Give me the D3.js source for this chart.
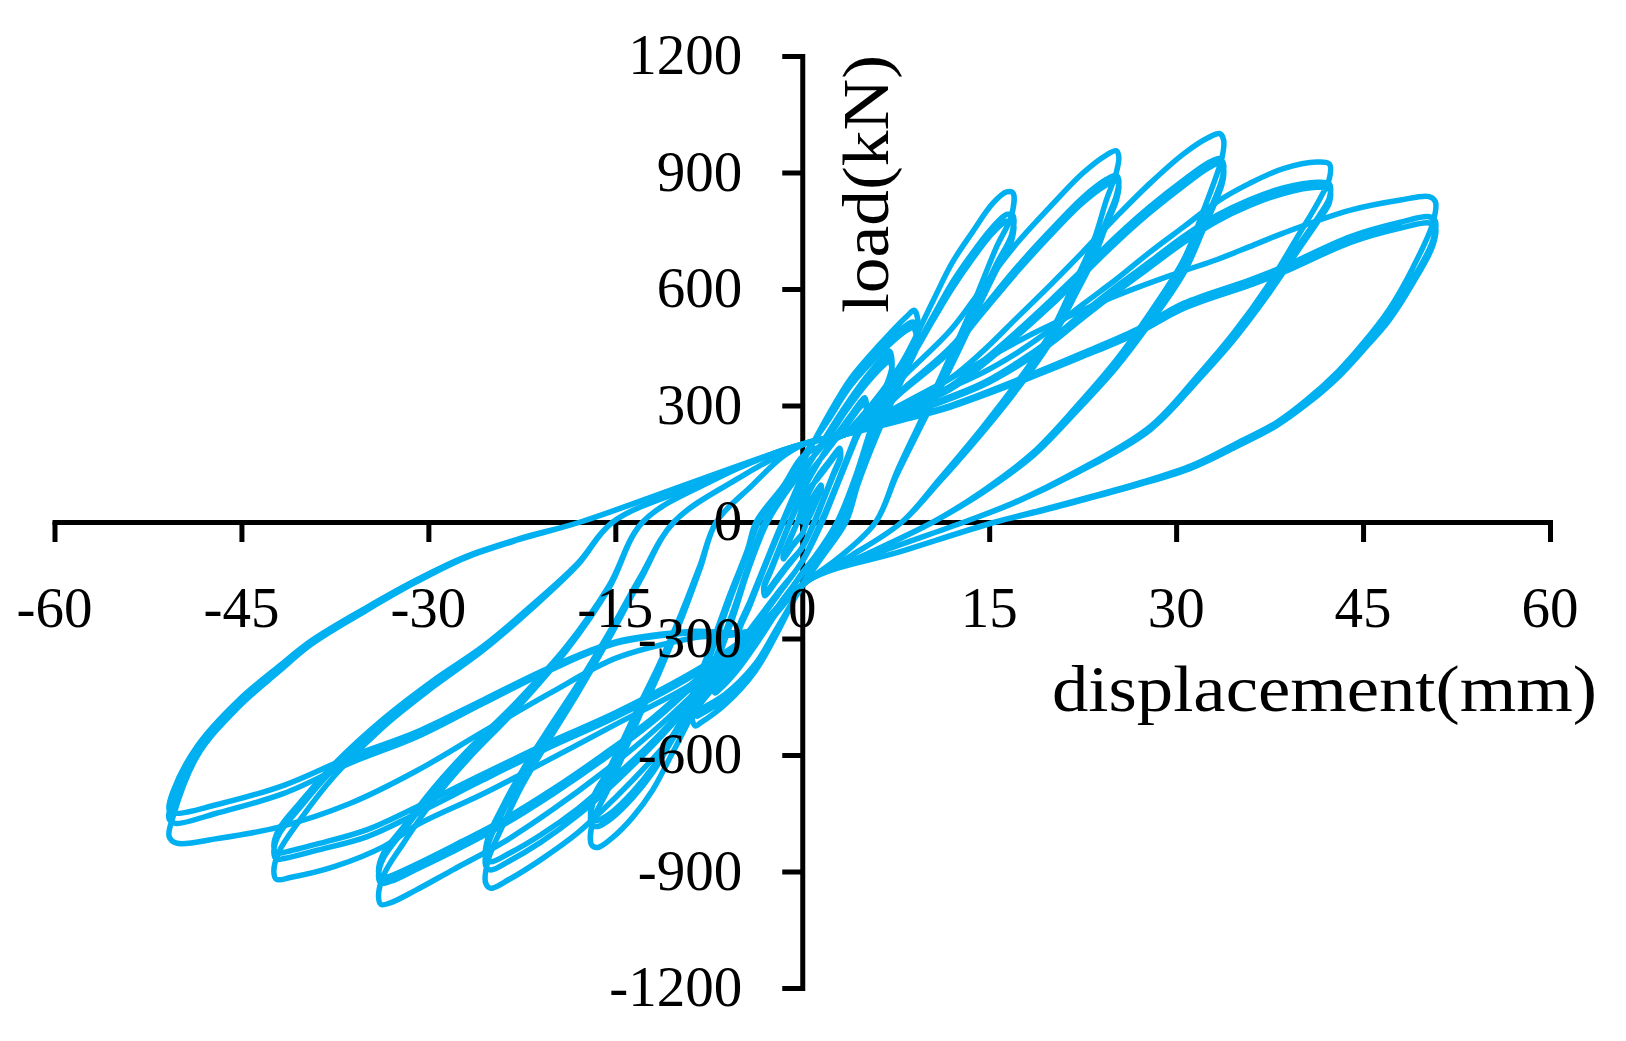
<!DOCTYPE html>
<html><head><meta charset="utf-8">
<script src="https://cdn.jsdelivr.net/npm/d3@7"></script>
<style>html,body{margin:0;padding:0;background:#fff;} svg{display:block;}</style>
</head><body>
<svg id="chart" width="1626" height="1041"></svg>
<script>
// ---- axis ticks ----
const xTicks = [-60, -45, -30, -15, 0, 15, 30, 45, 60];
const yTicks = [-1200, -900, -600, -300, 0, 300, 600, 900, 1200];

// ---- load history: [displacement (mm), load (kN)] ----
const stageS1 = [[0,0],[0.6,50],[1.1,77],[1.43,92],[1.5,95],[1.53,87],[1.2,62],[0.75,28],[0.38,0],[0,-30],[-0.6,-53],[-1.1,-77],[-1.43,-92],[-1.5,-95],[-1.53,-87],[-1.2,-62],[-0.75,-28],[-0.38,0],[0,30],
  [0.6,55],[1.1,74],[1.43,88],[1.5,91],[1.53,83],[1.2,58],[0.75,25],[0.38,0],[0,-30],[-0.6,-55],[-1.1,-74],[-1.43,-88],[-1.5,-91],[-1.53,-83],[-1.2,-58],[-0.75,-25],[-0.38,0],[0,40]];
const stageS2 = [[0,40],[1.2,115],[2.25,160],[2.85,186],[3,190],[3.08,172],[2.5,125],[1.7,60],[0.95,0],[0,-65],[-1.2,-115],[-2.25,-160],[-2.85,-186],[-3,-190],[-3.08,-172],[-2.5,-125],[-1.7,-60],[-0.95,0],[0,65],
  [1.2,110],[2.25,154],[2.85,180],[3,184],[3.08,166],[2.5,120],[1.7,56],[1,0],[0,-66],[-1.2,-110],[-2.25,-154],[-2.85,-180],[-3,-184],[-3.08,-166],[-2.5,-120],[-1.7,-56],[-1,0],[0,80]];
const stageS3 = [[0,80],[2,190],[3.75,268],[4.75,312],[5,320],[5.15,290],[4.2,215],[2.8,100],[1.5,0],[0,-100],[-2,-190],[-3.75,-268],[-4.75,-312],[-5,-320],[-5.15,-290],[-4.2,-215],[-2.8,-100],[-1.5,0],[0,100],
  [2,184],[3.75,258],[4.75,300],[5,306],[5.15,278],[4.2,205],[2.8,94],[1.6,0],[0,-102],[-2,-184],[-3.75,-258],[-4.75,-300],[-5,-306],[-5.15,-278],[-4.2,-205],[-2.8,-94],[-1.6,0],[0,120]];
const stageS4 = [[0,120],[1.8,215],[3.5,300],[5.3,380],[6.6,428],[7,440],[7.2,400],[6.5,330],[5.5,240],[4.3,120],[2.8,0],[1,-90],[0,-130],[-1.8,-220],[-3.5,-305],[-5.3,-385],[-6.6,-430],[-7,-440],[-7.2,-400],[-6.5,-330],[-5.5,-240],[-4.3,-120],[-2.8,0],[-1,90],[0,130],
  [1.8,208],[3.5,292],[5.3,370],[6.6,416],[7,426],[7.2,388],[6.5,320],[5.5,232],[4.3,115],[2.9,0],[1,-92],[0,-132],[-1.8,-214],[-3.5,-296],[-5.3,-374],[-6.6,-418],[-7,-426],[-7.2,-388],[-6.5,-320],[-5.5,-232],[-4.3,-115],[-2.9,0],[-1,92],[0,135],
  [1.8,204],[3.5,286],[5.3,362],[6.6,406],[7,415],[7.2,378],[6.5,312],[5.5,225],[4.3,110],[3,0],[1,-94],[0,-135],[-1.8,-210],[-3.5,-290],[-5.3,-366],[-6.6,-408],[-7,-415],[-7.2,-378],[-6.5,-312],[-5.5,-225],[-4.3,-110],[-3,0],[-1,94],[0,150]];
const stageS5 = [[0,150],[2,270],[3.9,370],[6.3,460],[8.4,530],[9,545],[9.3,488],[8.4,420],[7.2,330],[6,240],[4.5,110],[3.3,0],[1.5,-90],[0,-160],[-2,-285],[-3.8,-385],[-6.2,-470],[-8.2,-518],[-8.6,-525],[-8.9,-470],[-8,-400],[-7,-310],[-5.8,-200],[-4.4,-80],[-3.5,0],[-1.5,90],[0,160],
  [2,264],[3.9,360],[6.3,446],[8.4,508],[8.9,515],[9.2,468],[8.4,405],[7.2,318],[6,230],[4.5,104],[3.4,0],[1.5,-92],[0,-162],[-2,-278],[-3.8,-375],[-6.2,-455],[-8.2,-496],[-8.5,-500],[-8.8,-452],[-8,-386],[-7,-300],[-5.8,-192],[-4.4,-76],[-3.6,0],[-1.5,92],[0,165],
  [2,258],[3.9,352],[6.3,436],[8.4,494],[8.9,500],[9.2,455],[8.4,394],[7.2,310],[6,224],[4.5,100],[3.5,0],[1.5,-94],[0,-165],[-2,-272],[-3.8,-367],[-6.2,-444],[-8.2,-482],[-8.5,-486],[-8.8,-440],[-8,-376],[-7,-292],[-5.8,-186],[-4.4,-72],[-3.7,0],[-1.5,94],[0,168],[1.5,195],[3.4,225]];

const stageA = [[3.4,225],[5.5,300],[8,410],[10.5,570],[12,666],[13.6,744],[15.3,821],[16.4,850],[16.9,848],
  [16.8,790],[15.6,709],[14.5,623],[13.2,520],[11.5,400],[9.5,260],[7.6,130],[5.9,0],[3,-90],[0.5,-150],[-3.6,-275],
  [-5.5,-340],[-8,-450],[-10.5,-600],[-12,-690],[-13.6,-760],[-15.3,-815],[-16.4,-838],[-16.9,-832],
  [-16.8,-770],[-15.6,-690],[-14.5,-610],[-13.2,-510],[-11.5,-390],[-9.7,-250],[-8.2,-120],[-6.9,0],[-4,95],[-1.5,170],[0.5,205],[3.4,225],
  [5.5,290],[8,390],[10.5,530],[12,615],[13.6,690],[15.3,760],[16.4,792],[16.9,790],
  [16.8,740],[15.6,665],[14.5,590],[13.2,495],[11.5,380],[9.5,250],[7.6,125],[5.9,0],[3,-90],[0.5,-150],[-3.6,-275],
  [-5.5,-330],[-8,-430],[-10.5,-565],[-12,-645],[-13.6,-710],[-15.3,-763],[-16.4,-784],[-16.9,-780],
  [-16.8,-725],[-15.6,-655],[-14.5,-580],[-13.2,-490],[-11.5,-375],[-9.7,-240],[-8.2,-115],[-6.9,0],[-4,95],[-1.5,170],[0.5,205],[3.4,225],
  [5.5,285],[8,385],[10.5,520],[12,600],[13.6,675],[15.3,745],[16.4,775],[16.9,772],
  [16.8,725],[15.6,650],[14.5,578],[13.2,485],[11.5,372],[9.5,245],[7.6,122],[5.9,0],[3,-90],[0.5,-150],[-3.6,-275],
  [-5.5,-325],[-8,-422],[-10.5,-555],[-12,-632],[-13.6,-695],[-15.3,-748],[-16.4,-768],[-16.9,-765],
  [-16.8,-712],[-15.6,-642],[-14.5,-570],[-13.2,-480],[-11.5,-368],[-9.7,-235],[-8.2,-112],[-6.9,0],[-4,95],[-1.5,170],[0.5,205],[3.4,225]];

const stageB = [[3.4,225],[5.5,280],[8,370],[11.9,494],[14.5,605],[17.2,717],[19.9,812],[22.5,898],[24.4,945],[25.2,956],[25.4,940],
  [25.2,900],[24.4,829],[23.4,726],[21.7,606],[19.9,486],[17.2,358],[14.5,245],[11,110],[8,0],[4,-85],[0.5,-150],[-3.6,-275],
  [-6,-380],[-9,-500],[-12,-610],[-15,-710],[-18,-800],[-21,-870],[-23.5,-920],[-25,-943],[-25.4,-930],
  [-25.2,-870],[-24,-780],[-22.5,-680],[-20.5,-570],[-18,-440],[-15.5,-300],[-13,-150],[-10.3,0],[-5,115],[-1,185],[0.5,205],[3.4,225],
  [5.5,265],[8,340],[11.9,450],[14.5,550],[17.2,655],[19.9,750],[22.5,835],[24.4,882],[25.2,893],[25.4,880],
  [25.2,840],[24.4,775],[23.4,690],[21.7,580],[19.9,470],[17.2,345],[14.5,235],[11,105],[8,0],[4,-85],[0.5,-150],[-3.6,-275],
  [-6,-360],[-9,-470],[-12,-575],[-15,-670],[-18,-755],[-21,-825],[-23.5,-873],[-25,-896],[-25.4,-885],
  [-25.2,-830],[-24,-745],[-22.5,-655],[-20.5,-550],[-18,-425],[-15.5,-290],[-13,-145],[-10.3,0],[-5,115],[-1,185],[0.5,205],[3.4,225],
  [5.5,262],[8,335],[11.9,440],[14.5,540],[17.2,643],[19.9,738],[22.5,822],[24.4,868],[25.2,880],[25.4,868],
  [25.2,828],[24.4,765],[23.4,680],[21.7,572],[19.9,463],[17.2,340],[14.5,232],[11,103],[8,0],[4,-85],[0.5,-150],[-3.6,-275],
  [-6,-355],[-9,-462],[-12,-565],[-15,-655],[-18,-738],[-21,-806],[-23.5,-853],[-25,-875],[-25.4,-865],
  [-25.2,-812],[-24,-730],[-22.5,-642],[-20.5,-540],[-18,-418],[-15.5,-285],[-13,-142],[-10.3,0],[-5,115],[-1,185],[0.5,205],[3.4,225]];

const stageC = [[3.4,225],[5.5,255],[8,300],[11.9,370],[14.5,440],[17.2,525],[19.9,610],[22.5,695],[25.2,786],[27.9,872],[30.6,948],[32.6,990],[33.5,1000],[33.8,985],
  [33.7,941],[32.2,803],[30.6,675],[27.9,538],[25.2,417],[22,297],[18.5,178],[14.5,80],[10.5,0],[5,-85],[0.5,-150],[-3.6,-275],
  [-8,-420],[-12,-540],[-16,-645],[-20,-740],[-24,-825],[-28,-895],[-31,-948],[-33,-980],[-33.8,-985],[-34,-965],
  [-33.6,-910],[-32,-827],[-29.6,-716],[-26.9,-613],[-22.9,-480],[-18.9,-330],[-15.5,-170],[-12.8,0],[-7,110],[-2,180],[0.5,205],[3.4,225],
  [5.5,250],[8,290],[11.9,350],[14.5,415],[17.2,490],[19.9,570],[22.5,650],[25.2,735],[27.9,812],[30.6,880],[32.6,925],[33.5,936],[33.8,922],
  [33.7,885],[32.2,765],[30.6,648],[27.9,520],[25.2,405],[22,290],[18.5,174],[14.5,78],[10.5,0],[5,-85],[0.5,-150],[-3.6,-275],
  [-8,-400],[-12,-515],[-16,-612],[-20,-700],[-24,-780],[-28,-848],[-31,-895],[-33,-925],[-33.8,-930],[-34,-912],
  [-33.6,-865],[-32,-795],[-29.6,-695],[-26.9,-598],[-22.9,-470],[-18.9,-325],[-15.5,-167],[-12.8,0],[-7,110],[-2,180],[0.5,205],[3.4,225],
  [5.5,248],[8,285],[11.9,342],[14.5,405],[17.2,478],[19.9,556],[22.5,636],[25.2,720],[27.9,797],[30.6,866],[32.6,912],[33.5,924],[33.8,910],
  [33.7,872],[32.2,755],[30.6,640],[27.9,512],[25.2,398],[22,285],[18.5,170],[14.5,76],[10.5,0],[5,-85],[0.5,-150],[-3.6,-275],
  [-8,-392],[-12,-505],[-16,-600],[-20,-688],[-24,-767],[-28,-834],[-31,-882],[-33,-911],[-33.8,-917],[-34,-900],
  [-33.6,-853],[-32,-785],[-29.6,-686],[-26.9,-590],[-22.9,-463],[-18.9,-320],[-15.5,-164],[-12.8,0],[-7,110],[-2,180],[0.5,205],[3.4,225]];

const stageD = [[3.4,225],[6,265],[10,320],[14.5,385],[17.2,435],[19.9,495],[22.5,560],[25.2,625],[27.9,695],[30.6,760],[33.3,825],[35.9,872],[38.6,910],[41.3,927],[42.3,922],
  [42.3,885],[41.5,830],[39.9,743],[37.3,606],[34.6,486],[31.9,383],[27.9,245],[22,130],[17,50],[13,0],[6,-80],[0.5,-150],[-3.6,-275],
  [-8,-400],[-14.9,-520],[-20.2,-610],[-25.6,-700],[-30.9,-780],[-33.6,-836],[-37.5,-887],[-41,-915],[-42.2,-920],[-42.4,-900],
  [-42,-850],[-40.3,-767],[-37.6,-656],[-33.6,-527],[-29.6,-424],[-25.6,-330],[-21.6,-220],[-18,-110],[-15.2,0],[-8,100],[-2,180],[0.5,205],[3.4,225],
  [6,255],[10,300],[14.5,358],[17.2,409],[19.9,469],[22.5,538],[25.2,606],[27.9,670],[30.6,735],[33.3,790],[35.9,830],[38.6,860],[41.3,875],[42.3,870],
  [42.3,835],[41.5,790],[39.9,715],[37.3,590],[34.6,475],[31.9,375],[27.9,240],[22,128],[17,50],[13,0],[6,-80],[0.5,-150],[-3.6,-275],
  [-8,-380],[-14.9,-501],[-20.2,-579],[-25.6,-664],[-30.9,-750],[-34.9,-810],[-38.9,-845],[-41.5,-866],[-42.2,-868],[-42.4,-850],
  [-42,-805],[-40.3,-735],[-37.6,-635],[-33.6,-515],[-29.6,-415],[-25.6,-325],[-21.6,-215],[-18,-108],[-15.2,0],[-8,100],[-2,180],[0.5,205],[3.4,225],
  [6,252],[10,295],[14.5,352],[17.2,400],[19.9,458],[22.5,525],[25.2,592],[27.9,656],[30.6,720],[33.3,775],[35.9,815],[38.6,846],[41.3,862],[42.3,857],
  [42.3,823],[41.5,780],[39.9,705],[37.3,582],[34.6,468],[31.9,370],[27.9,237],[22,126],[17,49],[13,0],[6,-80],[0.5,-150],[-3.6,-275],
  [-8,-372],[-14.9,-490],[-20.2,-566],[-25.6,-649],[-30.9,-733],[-34.9,-792],[-38.9,-829],[-41.5,-850],[-42.2,-853],[-42.4,-835],
  [-42,-792],[-40.3,-723],[-37.6,-625],[-33.6,-507],[-29.6,-408],[-25.6,-320],[-21.6,-212],[-18,-106],[-15.2,0],[-8,100],[-2,180],[0.5,205],[3.4,225]];

const stageE = [[3.4,225],[6.4,276],[12.5,380],[18.8,490],[25,580],[30,640],[33.3,676],[35.9,709],[38.6,744],[44,803],[48,829],[50.3,838],[50.8,825],
  [50.6,770],[49,655],[47.1,548],[45,460],[43,388],[40.5,315],[38,255],[35,205],[31.3,146],[27,100],[23,64],[19,29],[15.5,0],[8,-75],[0.5,-150],[-3.6,-275],
  [-9,-300],[-14.9,-350],[-20.2,-440],[-25.6,-540],[-30.9,-640],[-36.3,-725],[-41.9,-785],[-46.9,-815],[-50.2,-827],[-50.8,-810],
  [-50.5,-760],[-48.5,-600],[-45.2,-475],[-42,-385],[-39.4,-315],[-35,-228],[-31,-155],[-27,-92],[-22.7,-45],[-17.8,0],[-9,100],[-2,180],[0.5,205],[3.4,225],
  [8,265],[11.9,300],[18,375],[22.5,435],[26.8,495],[30.6,563],[35.9,623],[38.6,657],[44,735],[48,772],[50.3,786],[50.8,775],
  [50.6,725],[49,625],[47.1,528],[45,448],[43,378],[40.5,308],[38,250],[35,200],[31.3,142],[27,97],[23,62],[19,28],[15.5,0],[8,-75],[0.5,-150],[-3.6,-275],
  [-9,-285],[-14.9,-312],[-20.2,-381],[-25.6,-467],[-30.9,-553],[-36.3,-621],[-41.6,-699],[-47,-750],[-50.3,-776],[-50.8,-765],
  [-50.5,-715],[-48.5,-585],[-45.2,-465],[-42,-378],[-39.4,-310],[-35,-224],[-31,-152],[-27,-90],[-22.7,-44],[-17.8,0],[-9,100],[-2,180],[0.5,205],[3.4,225],
  [8,262],[11.9,296],[18,368],[22.5,426],[26.8,485],[30.6,550],[35.9,610],[38.6,643],[44,720],[48,757],[50.3,770],[50.8,760],
  [50.6,712],[49,615],[47.1,520],[45,442],[43,373],[40.5,304],[38,247],[35,197],[31.3,140],[27,96],[23,61],[19,27],[15.5,0],[8,-75],[0.5,-150],[-3.6,-275],
  [-9,-282],[-14.9,-308],[-20.2,-374],[-25.6,-458],[-30.9,-540],[-36.3,-605],[-41.6,-678],[-47,-728],[-50.3,-750],[-50.8,-740],
  [-50.5,-695],[-48.5,-575],[-45.2,-458],[-42,-372],[-39.4,-306],[-35,-221],[-31,-150],[-27,-89],[-22.7,-43],[-17.8,0],[-9,100],[-2,180],[0.5,205],[3.4,225]];

const stages = [stageS1, stageS2, stageS3, stageS4, stageS5, stageA, stageB, stageC, stageD, stageE];

// ---- drawing ----
const svg = d3.select('#chart');
const font = '"Liberation Serif", "Times New Roman", serif';
const x = d3.scaleLinear().domain([-60, 60]).range([54.5, 1550]);
const y = d3.scaleLinear().domain([-1200, 1200]).range([988, 56]);

const axes = svg.append('g');
axes.append('g').attr('transform', `translate(0,${y(0)})`)
  .call(d3.axisBottom(x).tickValues(xTicks).tickSize(20).tickSizeOuter(0).tickFormat(''));
axes.append('g').attr('transform', `translate(${x(0)},0)`)
  .call(d3.axisLeft(y).tickValues(yTicks).tickSize(20).tickSizeOuter(0).tickFormat(''));
axes.selectAll('.domain').attr('stroke', '#000').attr('stroke-width', 5).attr('stroke-linecap', 'square');
axes.selectAll('.tick line').attr('stroke', '#000').attr('stroke-width', 5);

const line = d3.line().x(d => x(d[0])).y(d => y(d[1])).curve(d3.curveCatmullRom.alpha(0.5));
svg.append('g').selectAll('path').data(stages).join('path')
  .attr('d', line)
  .attr('fill', 'none')
  .attr('stroke', '#00B0F0')
  .attr('stroke-width', 5.5)
  .attr('stroke-linejoin', 'round')
  .attr('stroke-linecap', 'round');

// tick labels on top (the -15 / -300 labels overlap in the original as well)
const labels = svg.append('g').attr('font-family', font).attr('font-size', 57).attr('fill', '#000');
labels.selectAll('.xl').data(xTicks).join('text').attr('class', 'xl')
  .attr('x', d => x(d)).attr('y', y(0) + 105).attr('text-anchor', 'middle').text(d => String(d));
labels.selectAll('.yl').data(yTicks).join('text').attr('class', 'yl')
  .attr('x', x(0) - 60).attr('y', d => y(d) + 18).attr('text-anchor', 'end').text(d => String(d));

// axis titles
svg.append('text').attr('font-family', font).attr('font-size', 66)
  .attr('x', 1052).attr('y', 711)
  .attr('textLength', 545).attr('lengthAdjust', 'spacingAndGlyphs')
  .text('displacement(mm)');
svg.append('text').attr('font-family', font).attr('font-size', 66)
  .attr('transform', 'translate(888,313) rotate(-90)')
  .attr('textLength', 258).attr('lengthAdjust', 'spacingAndGlyphs')
  .text('load(kN)');
</script>
</body></html>
